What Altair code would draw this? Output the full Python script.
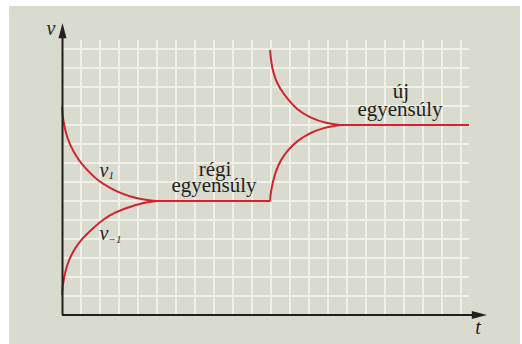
import altair as alt
import pandas as pd

# Reaction rates v1 and v-1 approaching equilibrium, then a disturbance at t = 11
# t and v in grid units
v1_t = [0.0, 0.05, 0.19, 0.42, 0.75, 1.04, 1.5, 1.91, 2.5, 3.14, 3.8, 4.54, 5.0]
v1_v = [10.95, 10.3, 9.6, 8.95, 8.35, 7.95, 7.45, 7.06, 6.7, 6.38, 6.17, 6.03, 6.0]

vm1_t = [0.0, 0.03, 0.12, 0.26, 0.42, 0.68, 1.04, 1.65, 2.26, 2.8, 3.32, 4.37, 5.0]
vm1_v = [1.05, 1.5, 2.05, 2.6, 3.02, 3.51, 4.0, 4.6, 5.1, 5.4, 5.62, 5.93, 6.0]

old_eq_t = [5.0, 10.95]
old_eq_v = [6.0, 6.0]

v1_new_t = [10.95, 11.0, 11.04, 11.21, 11.47, 11.93, 12.35, 13.05, 13.93, 14.63]
v1_new_v = [13.95, 13.45, 13.1, 12.45, 11.9, 11.3, 10.83, 10.38, 10.08, 10.0]

vm1_new_t = [10.95, 10.98, 11.09, 11.26, 11.51, 11.86, 12.35, 13.05, 13.75, 14.63]
vm1_new_v = [6.0, 6.4, 6.98, 7.6, 8.15, 8.65, 9.15, 9.58, 9.86, 10.0]

new_eq_t = [14.63, 21.42]
new_eq_v = [10.0, 10.0]

segments = {
    "v1": (v1_t, v1_v),
    "v-1": (vm1_t, vm1_v),
    "régi": (old_eq_t, old_eq_v),
    "v1 új": (v1_new_t, v1_new_v),
    "v-1 új": (vm1_new_t, vm1_new_v),
    "új": (new_eq_t, new_eq_v),
}
rows = []
for name, (ts, vs) in segments.items():
    for i, (t, v) in enumerate(zip(ts, vs)):
        rows.append({"seg": name, "i": i, "t": t, "v": v})
df = pd.DataFrame(rows)

grid_t = list(range(1, 22))
grid_v = list(range(1, 15))

W, H = 407, 275
CELL = 19.0
BG = "#dadbcf"
GRID = "#f0f0e8"
RED = "#d0232e"
INK = "#231f20"
SERIF = "Times New Roman, Tinos, Liberation Serif, DejaVu Serif, serif"

xs = alt.Scale(domain=[0, W / CELL], nice=False, zero=False)
ys = alt.Scale(domain=[0, H / CELL], nice=False, zero=False)

one = pd.DataFrame({"a": [0]})

# beige panel behind everything
panel = alt.Chart(one).mark_rect(color=BG).encode(
    x=alt.value(-53), x2=alt.value(458), y=alt.value(-34), y2=alt.value(304)
)

# square grid
vgrid = alt.Chart(pd.DataFrame({"t": grid_t})).mark_rule(color=GRID, strokeWidth=2).encode(
    x=alt.X("t:Q", scale=xs, axis=None), y=alt.value(0), y2=alt.value(H)
)
hgrid = alt.Chart(pd.DataFrame({"v": grid_v})).mark_rule(color=GRID, strokeWidth=2).encode(
    y=alt.Y("v:Q", scale=ys, axis=None), x=alt.value(0), x2=alt.value(W)
)

curves = alt.Chart(df).mark_line(color=RED, strokeWidth=2, interpolate="basis").encode(
    x=alt.X("t:Q", scale=xs, axis=None),
    y=alt.Y("v:Q", scale=ys, axis=None),
    detail="seg:N",
    order="i:Q",
)

y_axis = alt.Chart(one).mark_rule(color=INK, strokeWidth=2).encode(
    x=alt.value(0.5), y=alt.value(H), y2=alt.value(-8)
)
x_axis = alt.Chart(one).mark_rule(color=INK, strokeWidth=2).encode(
    x=alt.value(0), x2=alt.value(412), y=alt.value(H)
)
up_head = alt.Chart(one).mark_point(
    shape="M0,0L0.5,1.9L-0.5,1.9Z", filled=True, color=INK, opacity=1, size=256
).encode(x=alt.value(0.5), y=alt.value(-17))
right_head = alt.Chart(one).mark_point(
    shape="M0,0L-1.9,-0.5L-1.9,0.5Z", filled=True, color=INK, opacity=1, size=256
).encode(x=alt.value(425), y=alt.value(H))


def label(text, x, y, size=21, italic=False, align="center"):
    return alt.Chart(one).mark_text(
        text=text, font=SERIF, fontSize=size, fontStyle="italic" if italic else "normal",
        color=INK, align=align, baseline="alphabetic"
    ).encode(x=alt.value(x), y=alt.value(y))


labels = [
    label("v", -11, -5, size=20, italic=True),
    label("t", 416, 294, size=20, italic=True),
    label("v", 42, 137, size=20, italic=True),
    label("1", 46.5, 139, size=11, italic=True, align="left"),
    label("v", 42, 199.5, size=20, italic=True),
    label("−1", 46.5, 202.5, size=11, italic=True, align="left"),
    label("régi", 153, 135.5),
    label("egyensúly", 152, 152),
    label("új", 339, 58),
    label("egyensúly", 338, 76),
]

chart = alt.layer(panel, vgrid, hgrid, curves, y_axis, x_axis, up_head, right_head, *labels).properties(
    width=W,
    height=H,
    autosize=alt.AutoSizeParams(type="none"),
    padding={"left": 62, "top": 40, "right": 53, "bottom": 29},
    background="white",
).configure_view(stroke=None, fill=None)

chart.save("out.html", embed_options={"renderer": "svg", "actions": False})
